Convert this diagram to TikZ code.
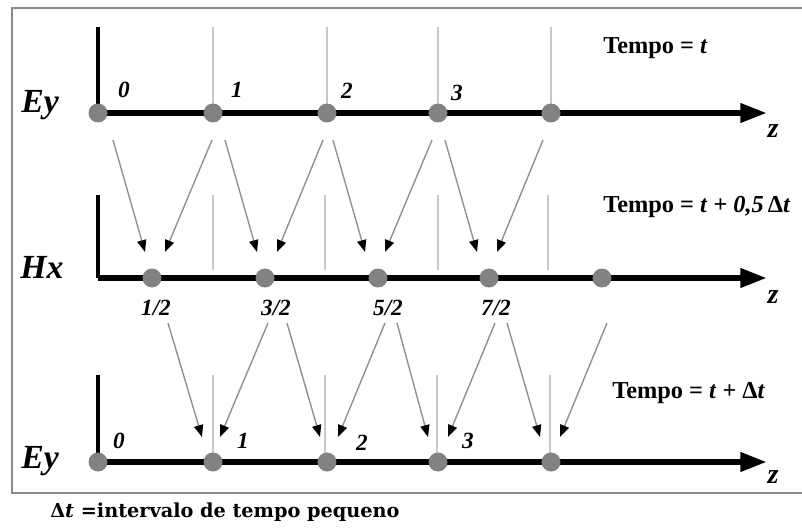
\documentclass[tikz,border=0pt]{standalone}
\usepackage{fontspec}
\setmainfont{Liberation Serif}
\newfontfamily\footfont{DejaVu Serif}
\usetikzlibrary{arrows.meta}
\definecolor{dotgray}{HTML}{828282}
\definecolor{guidegray}{HTML}{C8C8C8}
\definecolor{arrgray}{HTML}{919191}
\definecolor{framegray}{HTML}{8A8A8A}
\begin{document}
\begin{tikzpicture}[x=0.025cm,y=-0.025cm,
  haxis/.style={line width=4.3pt,-{Triangle[length=19pt,width=13pt]}},
  vaxis/.style={line width=2.4pt},
  guide/.style={guidegray,line width=1.1pt},
  flow/.style={arrgray,line width=1pt,-{Triangle[length=8.5pt,width=6.5pt,color=black]}},
  dot/.style={circle,fill=dotgray,minimum size=13.5pt,inner sep=0pt},
  num/.style={font=\fontsize{16.5}{17}\selectfont\bfseries\itshape,anchor=base,inner sep=0pt},
  big/.style={font=\fontsize{24}{24}\selectfont\bfseries\itshape,anchor=base,inner sep=0pt},
  zlab/.style={font=\fontsize{20}{20}\selectfont\bfseries\itshape,anchor=base,inner sep=0pt},
  tempo/.style={font=\fontsize{17.3}{17}\selectfont\bfseries,anchor=base,inner sep=0pt},
  frame/.style={framegray,line width=1.8pt}]
\useasboundingbox (0,0) rectangle (802,528);
% frame
\draw[frame] (802,8) -- (12,8) -- (12,493) -- (802,493);

% ---------- coordinates ----------
\coordinate (ta) at (98,27);
\foreach \n/\x in {0/98,1/213,2/327,3/438,4/551} \coordinate (tp\n) at (\x,113);
\coordinate (tz) at (767,113);
\coordinate (ma) at (98,195);
\coordinate (m0) at (98,278);
\foreach \n/\x in {1/152,2/265,3/378,4/489,5/602} \coordinate (mp\n) at (\x,278);
\coordinate (mz) at (767,278);
\coordinate (ba) at (98,375);
\foreach \n/\x in {0/98,1/213,2/327,3/438,4/551} \coordinate (bp\n) at (\x,462);
\coordinate (bz) at (767,462);

% ---------- guide lines ----------
\foreach \n/\x in {1/213,2/327,3/438,4/551} {
  \coordinate (tg\n) at (\x,27);
  \draw[guide] (tg\n) -- (tp\n);
}
\foreach \n/\x in {1/213,2/325,3/438,4/548} {
  \coordinate (mg\n) at (\x,195);
  \coordinate (mh\n) at (\x,270);
  \draw[guide] (mg\n) -- (mh\n);
}
\foreach \n/\x in {1/213,2/325,3/437,4/550} {
  \coordinate (bg\n) at (\x,375);
  \coordinate (bh\n) at (\x,462);
  \draw[guide] (bg\n) -- (bh\n);
}

% ---------- axes ----------
\draw[vaxis] (ta) -- (tp0);
\draw[haxis] (tp0) -- (tz);
\draw[vaxis] (ma) -- (m0);
\draw[haxis] (m0) -- (mz);
\draw[vaxis] (ba) -- (bp0);
\draw[haxis] (bp0) -- (bz);

% ---------- dots ----------
\foreach \n in {0,...,4} \node[dot] (tdot\n) at (tp\n) {};
\foreach \n in {1,...,5} \node[dot] (mdot\n) at (mp\n) {};
\foreach \n in {0,...,4} \node[dot] (bdot\n) at (bp\n) {};

% ---------- flow arrows: top -> middle ----------
\foreach \k/\sx/\ex in {1/113/145,2/212/165,3/225/257,4/323/277,5/333/365,6/432/385,7/445/477,8/543/497} {
  \coordinate (fs\k) at (\sx,140);
  \coordinate (fe\k) at (\ex,252);
  \draw[flow] (fs\k) -- (fe\k);
}
% ---------- flow arrows: middle -> bottom ----------
\foreach \k/\sx/\ex in {1/168/202,2/268/220,3/287/320,4/385/338,5/397/428,6/495/448,7/507/540,8/607/560} {
  \coordinate (gs\k) at (\sx,323);
  \coordinate (ge\k) at (\ex,437);
  \draw[flow] (gs\k) -- (ge\k);
}

% ---------- labels ----------
\node[big] (ey1) at (40,112) {Ey};
\node[big] (hx) at (42,278) {Hx};
\node[big] (ey2) at (40,468) {Ey};

\node[num] (l0) at (124,97) {0};
\node[num] (l1) at (237,97) {1};
\node[num] (l2) at (347,98) {2};
\node[num] (l3) at (457,100) {3};

\node[num] (h1) at (156,315) {1/2};
\node[num] (h3) at (276,315) {3/2};
\node[num] (h5) at (388,315) {5/2};
\node[num] (h7) at (496,315) {7/2};

\node[num] (k0) at (119,448) {0};
\node[num] (k1) at (243,448) {1};
\node[num] (k2) at (362,450) {2};
\node[num] (k3) at (468,448) {3};

\node[zlab] (z1) at (773,137) {z};
\node[zlab] (z2) at (773,303) {z};
\node[zlab] (z3) at (773,483) {z};

\node[tempo,anchor=base west] (T1) at (603,53) {Tempo = \textit{t}};
\node[tempo,anchor=base west] (T2) at (603,212) {Tempo = \textit{t} + \textit{0,5}\,Δ\textit{t}};
\node[tempo,anchor=base west] (T3) at (612,398) {Tempo = \textit{t} + Δ\textit{t}};

\node[anchor=base west,inner sep=0pt,font=\footfont\fontsize{13.7}{14}\selectfont\bfseries] (foot) at (50,517) {Δ\textit{t} =intervalo de tempo pequeno};
\end{tikzpicture}
\end{document}
